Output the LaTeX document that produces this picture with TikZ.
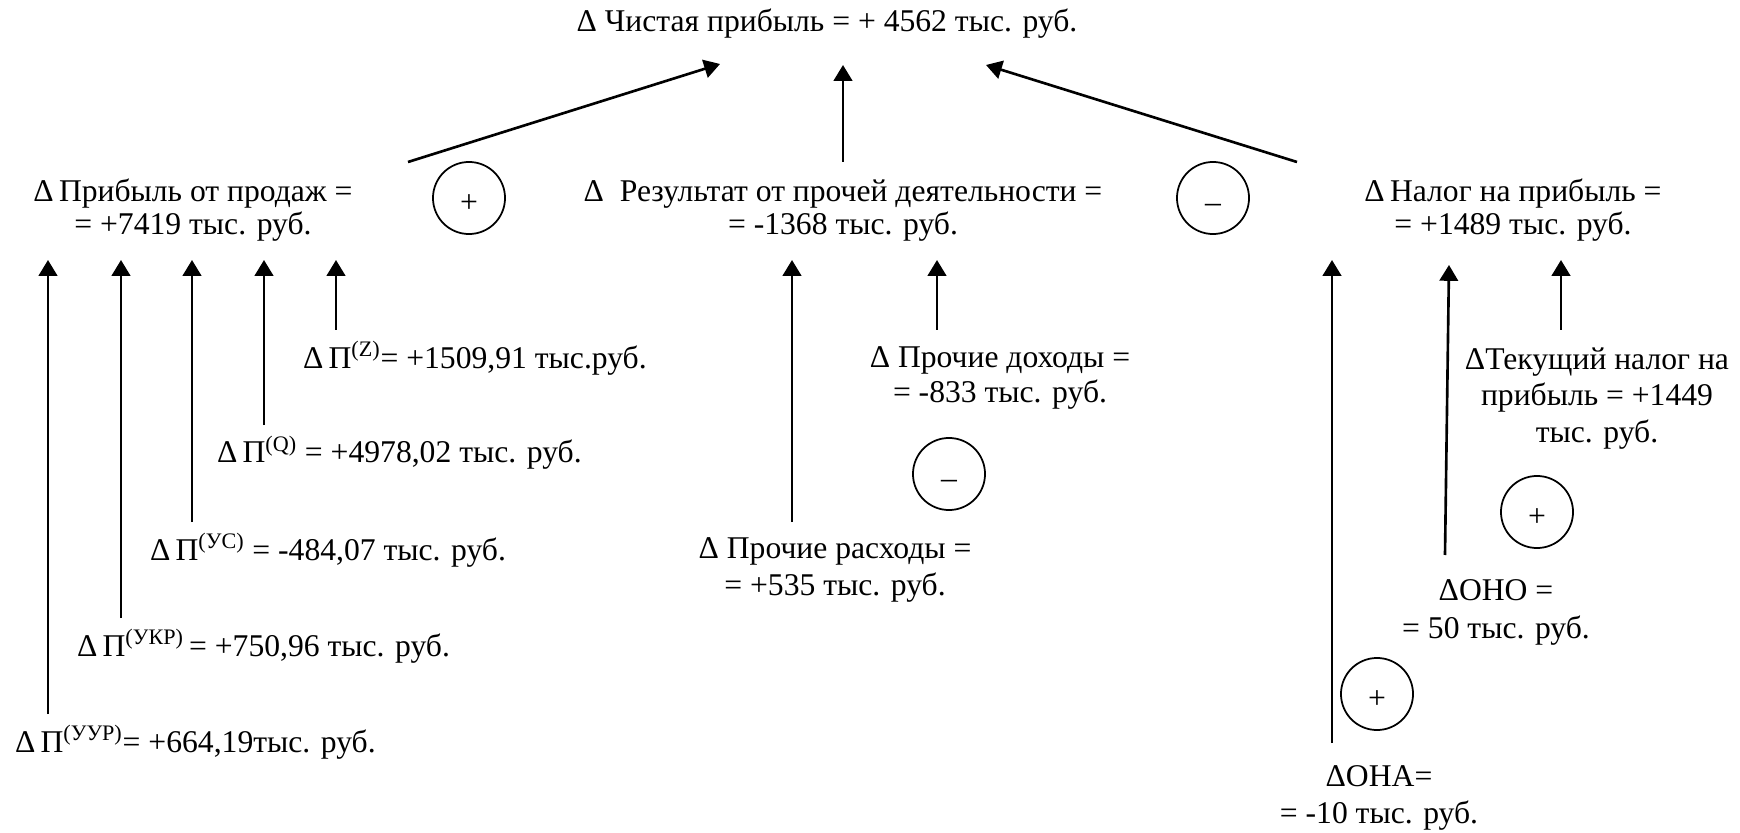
\documentclass[tikz,border=0pt]{standalone}
\usepackage{fontspec}
\setmainfont{Liberation Serif}
\usepackage{tikz}
\usetikzlibrary{positioning,arrows.meta}
\tikzset{
labnode/.style = {inner sep=0pt, outer sep=0pt, align=center, font=\fontsize{18pt}{#1}\selectfont},
labnode/.default = 19pt % line spacing
}
\tikzset{
signnode/.style = {circle, draw, line width=1pt, minimum size=#1, inner sep=0pt, text height=16pt, text depth=0pt, font=\fontsize{18pt}{19pt}\selectfont},
signnode/.default = 41pt % diameter of the circle
}
\tikzset{arr/.style={-{Triangle[length=9pt,width=10.5pt]}, line width=1.5pt}}
\newcommand{\upidx}[1]{\textsuperscript{(#1)}}

\begin{document}
\begin{tikzpicture}
\useasboundingbox (0,0) rectangle (34.8,-16.66);
% result
\node [labnode, anchor=base] (net) at (16.54,-0.64) {Δ Чистая прибыль = + 4562 тыс. руб.};
% second level (base = last line)
\node [labnode, anchor=base] (sales) at (3.86,-4.70) {Δ\,Прибыль от продаж =\\= +7419 тыс. руб.};
\node [labnode, anchor=base] (other) at (16.86,-4.70) {Δ~~Результат от прочей деятельности =\\= -1368 тыс. руб.};
\node [labnode, anchor=base] (tax) at (30.26,-4.70) {Δ\,Налог на прибыль =\\= +1489 тыс. руб.};
\node [signnode] (plus1) at (9.38,-3.96) {+};
\node [signnode] (minus1) at (24.26,-3.96) {--};

\draw [arr] ([shift={(4.3,1.46)}]sales.base) -- ([shift={(-2.14,-0.64)}]net.base);
\draw [arr] ([yshift=1.46cm]other.base) -- ([yshift=-0.66cm]other.base |- net.base);
\draw [arr] ([shift={(-4.32,1.46)}]tax.base) -- ([shift={(3.18,-0.66)}]net.base);

% factors of the profit from sales
\node [labnode, anchor=base west] (pz) at (6.06,-7.36) {Δ\,Π\upidx{Z}= +1509,91 тыс.руб.};
\node [labnode, anchor=base west] (pq) at (4.34,-9.26) {Δ\,Π\upidx{Q} = +4978,02 тыс. руб.};
\node [labnode, anchor=base west] (pus) at (3.00,-11.20) {Δ\,Π\upidx{УС} = -484,07 тыс. руб.};
\node [labnode, anchor=base west] (pukr) at (1.54,-13.12) {Δ\,Π\upidx{УКР}\,= +750,96 тыс. руб.};
\node [labnode, anchor=base west] (puur) at (0.30,-15.04) {Δ\,Π\upidx{УУР}= +664,19тыс. руб.};

\draw [arr] ([xshift=0.66cm,yshift=0.76cm]pz.base west) -- ([xshift=0.66cm,yshift=-0.5cm]pz.base west |- sales.base);
\draw [arr] ([xshift=0.94cm,yshift=0.76cm]pq.base west) -- ([xshift=0.94cm,yshift=-0.5cm]pq.base west |- sales.base);
\draw [arr] ([xshift=0.84cm,yshift=0.76cm]pus.base west) -- ([xshift=0.84cm,yshift=-0.5cm]pus.base west |- sales.base);
\draw [arr] ([xshift=0.88cm,yshift=0.76cm]pukr.base west) -- ([xshift=0.88cm,yshift=-0.5cm]pukr.base west |- sales.base);
\draw [arr] ([xshift=0.66cm,yshift=0.76cm]puur.base west) -- ([xshift=0.66cm,yshift=-0.5cm]puur.base west |- sales.base);

% other activity
\node [labnode=20pt, anchor=base] (inc) at (20.0,-8.06) {Δ Прочие доходы =\\= -833 тыс. руб.};
\node [labnode=21pt, anchor=base] (exp) at (16.7,-11.90) {Δ Прочие расходы =\\= +535 тыс. руб.};
\node [signnode] (minus2) at (18.98,-9.48) {--};

\draw [arr] ([xshift=-1.26cm,yshift=1.46cm]inc.base) -- ([xshift=-1.26cm,yshift=-0.5cm]inc.base |- other.base);
\draw [arr] ([xshift=-0.86cm,yshift=1.46cm]exp.base) -- ([xshift=-0.86cm,yshift=-0.5cm]exp.base |- other.base);

% income tax
\node [labnode=20.7pt, anchor=base] (cur) at (31.94,-8.84) {ΔТекущий налог на\\прибыль = +1449\\тыс. руб.};
\node [labnode=21.5pt, anchor=base] (ono) at (29.92,-12.76) {ΔОНО =\\= 50 тыс. руб.};
\node [labnode=21pt, anchor=base] (ona) at (27.58,-16.46) {ΔОНА=\\= -10 тыс. руб.};
\node [signnode] (plus2) at (30.74,-10.24) {+};
\node [signnode] (plus3) at (27.54,-13.88) {+};

\draw [arr] ([xshift=-0.72cm,yshift=2.24cm]cur.base) -- ([xshift=-0.72cm,yshift=-0.5cm]cur.base |- tax.base);
\draw [arr] ([shift={(-1.02,1.66)}]ono.base) -- ([shift={(-1.28,-0.6)}]tax.base);
\draw [arr] ([xshift=-0.94cm,yshift=1.6cm]ona.base) -- ([xshift=-0.94cm,yshift=-0.5cm]ona.base |- tax.base);
\end{tikzpicture}
\end{document}
